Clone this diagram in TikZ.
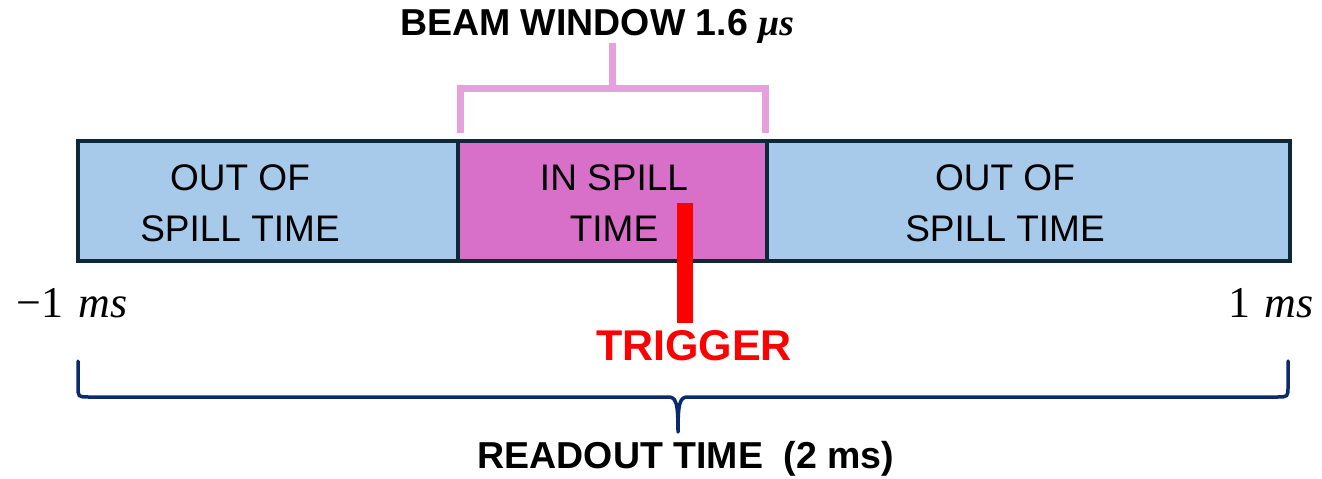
\documentclass[tikz,border=0pt]{standalone}
\usepackage{fontspec}
\setmainfont{Liberation Sans}
\newfontfamily\mathlike{Liberation Serif}
\definecolor{spillblue}{HTML}{A7CAEB}
\definecolor{spillmag}{HTML}{D86FC9}
\definecolor{boxedge}{HTML}{0E2838}
\definecolor{bracketpink}{HTML}{E6A0DC}
\definecolor{bracenavy}{HTML}{0B2A6B}
\definecolor{trigred}{HTML}{FF0000}
\newcommand{\mybmu}{{\mathlike\bfseries\itshape μs}}
\tikzset{
  seg/.style={draw=boxedge, line width=3.5pt, inner sep=0pt, minimum height=120pt, anchor=north west},
  boxtxt/.style={align=center, font=\fontsize{37}{51}\selectfont, inner sep=0pt},
  boldlbl/.style={font=\fontsize{37.5}{40}\selectfont\bfseries, inner sep=0pt},
  titlelbl/.style={font=\fontsize{37.5}{40}\selectfont\bfseries, inner sep=0pt},
  triglbl/.style={font=\fontsize{43}{45}\selectfont\bfseries, text=trigred, inner sep=0pt},
  mathlbl/.style={font=\fontsize{44}{44}\selectfont\mathlike, inner sep=0pt},
}
\begin{document}
\begin{tikzpicture}[x=1pt,y=-1pt]
\useasboundingbox (0,0) rectangle (1322,479);
% boxes
\node[seg, fill=spillblue, minimum width=380pt] (left) at (76,139) {};
\node[seg, fill=spillblue, minimum width=523pt] (right) at (765,139) {};
\node[seg, fill=spillmag, minimum width=309pt] (mid) at (456,139) {};
% box texts
\node[boxtxt] (lt) at (240,203) {OUT OF\\SPILL TIME};
\node[boxtxt] (mt) at (614,203) {IN SPILL\\TIME};
\node[boxtxt] (rt) at (1005,203) {OUT OF\\SPILL TIME};
% beam window bracket
\node[titlelbl] (beam) at (597,26) {BEAM WINDOW 1.6 \mybmu};
\coordinate (bl) at (460,133);
\coordinate (br) at (765,133);
\coordinate (bstem) at (612,88);
\draw[bracketpink, line width=7pt] (bl) |- (bstem) -| (br);
\draw[bracketpink, line width=7pt] (bstem) -- (612,43);
% trigger
\node[triglbl] (trig) at (694,346) {TRIGGER};
\coordinate (trigtop) at (685,203);
\draw[trigred, line width=16pt] (trigtop) -- (685,323);
% time labels
\node[mathlbl] (tmin) at (72,303) {−1\,\,\textit{ms}};
\node[mathlbl] (tmax) at (1271,303) {1\,\,\textit{ms}};
% readout brace
\node[boldlbl] (readout) at (686,459) {READOUT TIME\ \ (2 ms)};
\coordinate (rl) at (78,361);
\coordinate (rr) at (1288,361);
\draw[bracenavy, line width=3.5pt, line cap=round, line join=round]
  (rl) -- (78,386) .. controls (78,397) .. (89,397) -- (668,397)
  .. controls (676,397) and (678,402) .. (678,432)
  .. controls (678,402) and (680,397) .. (688,397)
  -- (1277,397) .. controls (1288,397) .. (1288,386) -- (rr);
\end{tikzpicture}
\end{document}
